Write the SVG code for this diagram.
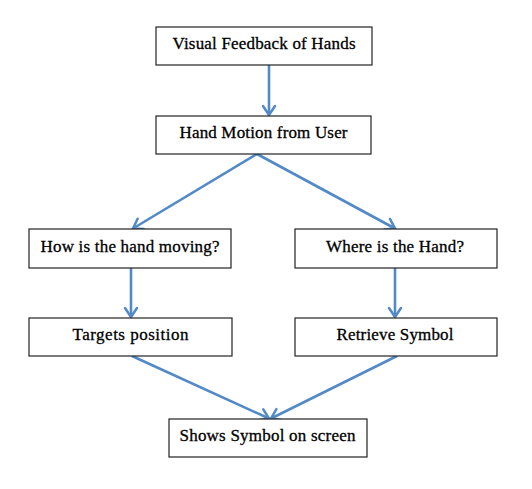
<svg xmlns="http://www.w3.org/2000/svg" width="532" height="489" viewBox="0 0 532 489">
<defs>
<marker id="ah" markerUnits="userSpaceOnUse" viewBox="-12 -8 14 16" refX="0" refY="0" markerWidth="14" markerHeight="16" orient="auto" overflow="visible">
<path d="M-9,-6 L0,0 L-9,6" fill="none" stroke="#5289C7" stroke-width="2.5" stroke-linecap="round" stroke-linejoin="miter"/>
</marker>
</defs>
<style>
.box{fill:#fff;stroke:#222;stroke-width:1.2}
.lbl{font-family:"Liberation Serif","DejaVu Serif",serif;font-size:17px;fill:#000;stroke:#000;stroke-width:0.3;text-anchor:middle}
.con{stroke:#5289C7;stroke-width:2.6;fill:none;marker-end:url(#ah)}
</style>
<rect width="532" height="489" fill="#fff"/>
<g id="connectors">
<line class="con" x1="269" y1="65" x2="269" y2="115"/>
<line class="con" x1="257" y1="154" x2="133" y2="228.5"/>
<line class="con" x1="257" y1="154" x2="395" y2="228.5"/>
<line class="con" x1="131" y1="268" x2="131" y2="317"/>
<line class="con" x1="395" y1="268" x2="395" y2="317"/>
<line class="con" x1="132" y1="356" x2="269" y2="418.5"/>
<line class="con" x1="397" y1="356" x2="271" y2="418.5"/>
</g>
<g id="n1"><rect class="box" x="156" y="27" width="216" height="38"/><text class="lbl" x="264" y="49" textLength="183">Visual Feedback of Hands</text></g>
<g id="n2"><rect class="box" x="156" y="116" width="215" height="38"/><text class="lbl" x="263.5" y="137.5" textLength="168">Hand Motion from User</text></g>
<g id="n3"><rect class="box" x="29" y="229" width="202" height="39"/><text class="lbl" x="130" y="251.5" textLength="179">How is the hand moving?</text></g>
<g id="n4"><rect class="box" x="295" y="229" width="202" height="39"/><text class="lbl" x="395" y="251.5" textLength="138">Where is the Hand?</text></g>
<g id="n5"><rect class="box" x="29" y="318" width="203" height="38"/><text class="lbl" x="130.5" y="339.5" textLength="116">Targets position</text></g>
<g id="n6"><rect class="box" x="295" y="318" width="202" height="38"/><text class="lbl" x="395" y="339.5" textLength="117">Retrieve Symbol</text></g>
<g id="n7"><rect class="box" x="169" y="419" width="198" height="38"/><text class="lbl" x="267.5" y="441" textLength="176">Shows Symbol on screen</text></g>
</svg>
